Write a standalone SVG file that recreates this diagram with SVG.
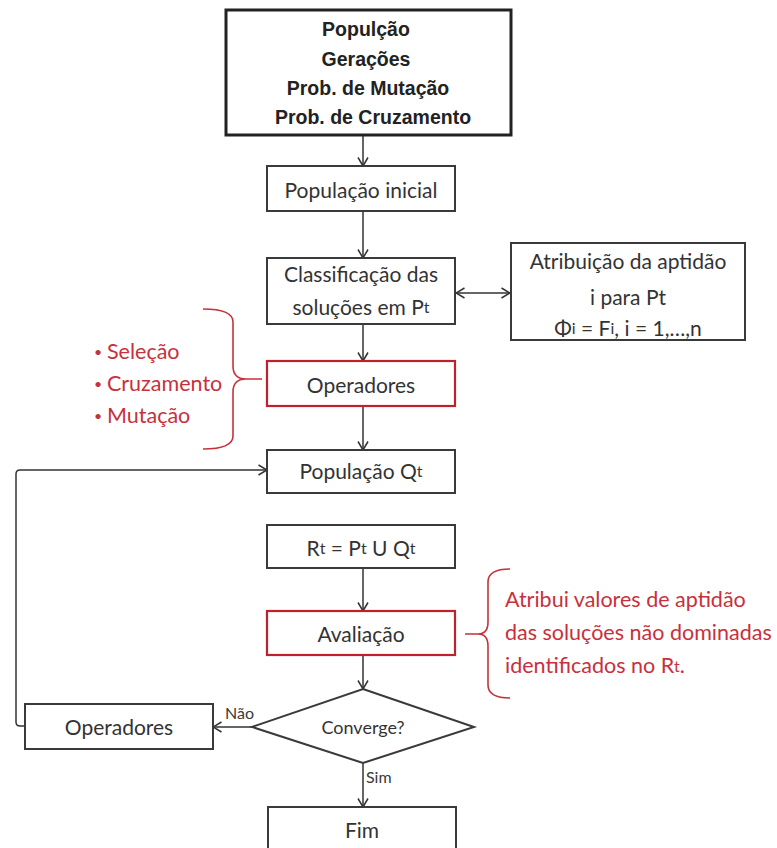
<svg xmlns="http://www.w3.org/2000/svg" width="777" height="848" viewBox="0 0 777 848">
  <defs>
    <marker id="arrow" viewBox="0 0 10 12" refX="9.5" refY="6" markerWidth="10" markerHeight="12" markerUnits="userSpaceOnUse" orient="auto-start-reverse">
      <path d="M1,1 L9.5,6 L1,11" fill="none" stroke="#333" stroke-width="1.5"/>
    </marker>
    <style>
      .box { fill: #fff; stroke: #3a3a3a; stroke-width: 2; }
      .hot { fill: #fff; stroke: #c0202c; stroke-width: 2.2; }
      .main { fill: #fff; stroke: #222; stroke-width: 3; }
      .t { font-family: Lato, "Open Sans", sans-serif; font-size: 21px; fill: #333; text-anchor: middle; dominant-baseline: central; }
      .tb { font-family: "Liberation Sans", Arial, sans-serif; font-weight: bold; font-size: 19.5px; fill: #222; text-anchor: middle; dominant-baseline: central; }
      .red { font-family: Lato, "Open Sans", sans-serif; font-size: 21.5px; fill: #c8303c; dominant-baseline: central; }
      .dot { font-family: Lato, "Open Sans", sans-serif; font-size: 14px; fill: #c8303c; dominant-baseline: central; }
      .small { font-family: Lato, "Open Sans", sans-serif; font-size: 16px; fill: #3a3a3a; dominant-baseline: central; }
      .sub { font-size: 16px; }
      .edge { fill: none; stroke: #333; stroke-width: 1.5; }
      .brace { fill: none; stroke: #c8303c; stroke-width: 1.6; }
    </style>
  </defs>

  <!-- connectors -->
  <g id="connectors">
    <line class="edge" x1="363" y1="135" x2="363" y2="166" marker-end="url(#arrow)"/>
    <line class="edge" x1="363" y1="211" x2="363" y2="258" marker-end="url(#arrow)"/>
    <line class="edge" x1="456" y1="293" x2="510" y2="293" marker-start="url(#arrow)" marker-end="url(#arrow)"/>
    <line class="edge" x1="363" y1="324" x2="363" y2="361" marker-end="url(#arrow)"/>
    <line class="edge" x1="363" y1="406" x2="363" y2="450" marker-end="url(#arrow)"/>
    <path class="edge" d="M25,726 L20,726 Q16,726 16,722 L16,474 Q16,470 20,470 L267,470" marker-end="url(#arrow)"/>
    <line class="edge" x1="363" y1="568" x2="363" y2="611" marker-end="url(#arrow)"/>
    <line class="edge" x1="363" y1="655" x2="363" y2="689" marker-end="url(#arrow)"/>
    <line class="edge" x1="252" y1="727" x2="213" y2="727" marker-end="url(#arrow)"/>
    <line class="edge" x1="363" y1="763" x2="363" y2="807" marker-end="url(#arrow)"/>
    <text class="small" x="225" y="712">Não</text>
    <text class="small" x="366" y="776">Sim</text>
  </g>

  <!-- parameters -->
  <g id="params">
    <rect class="main" x="226" y="10" width="285" height="125"/>
    <text class="tb" x="366" y="29">Populção</text>
    <text class="tb" x="366" y="59">Gerações</text>
    <text class="tb" x="368" y="88">Prob. de Mutação</text>
    <text class="tb" x="373" y="117">Prob. de Cruzamento</text>
  </g>

  <g id="pop-inicial">
    <rect class="box" x="267" y="166" width="188" height="45"/>
    <text class="t" x="361" y="189">População inicial</text>
  </g>

  <g id="classificacao">
    <rect class="box" x="267" y="258" width="188" height="66"/>
    <text class="t" x="361" y="273">Classificação das</text>
    <text class="t" x="361" y="306">soluções em P<tspan class="sub">t</tspan></text>
  </g>

  <g id="atribuicao">
    <rect class="box" x="511" y="243" width="234" height="97"/>
    <text class="t" x="628" y="260">Atribuição da aptidão</text>
    <text class="t" x="628" y="296">i para Pt</text>
    <text class="t" x="628" y="327">Φ<tspan class="sub">i</tspan> = F<tspan class="sub">i</tspan>, i = 1,…,n</text>
  </g>

  <g id="operadores">
    <rect class="hot" x="267" y="361" width="188" height="45"/>
    <text class="t" x="361" y="384">Operadores</text>
  </g>

  <g id="op-lista">
    <path class="brace" d="M203,309 Q233,309 233,322 L233,366 Q233,379 246,379 L262,379 M246,379 Q233,379 233,392 L233,436 Q233,449 203,449"/>
    <text class="dot" x="94" y="351">•</text>
    <text class="red" x="107" y="351">Seleção</text>
    <text class="dot" x="94" y="383">•</text>
    <text class="red" x="107" y="383">Cruzamento</text>
    <text class="dot" x="94" y="415">•</text>
    <text class="red" x="107" y="415">Mutação</text>
  </g>

  <g id="pop-qt">
    <rect class="box" x="267" y="450" width="188" height="43"/>
    <text class="t" x="361" y="470">População Q<tspan class="sub">t</tspan></text>
  </g>

  <g id="rt">
    <rect class="box" x="267" y="525" width="188" height="43"/>
    <text class="t" x="361" y="547">R<tspan class="sub">t</tspan> = P<tspan class="sub">t</tspan> U Q<tspan class="sub">t</tspan></text>
  </g>

  <g id="avaliacao">
    <rect class="hot" x="267" y="611" width="188" height="44"/>
    <text class="t" x="361" y="633">Avaliação</text>
  </g>

  <g id="avaliacao-nota">
    <path class="brace" d="M510,569 Q488,569 488,582 L488,622 Q488,634 478,634 L465,634 M478,634 Q488,634 488,646 L488,685 Q488,698 510,698"/>
    <text class="red" x="505" y="599">Atribui valores de aptidão</text>
    <text class="red" x="505" y="632">das soluções não dominadas</text>
    <text class="red" x="505" y="665">identificados no R<tspan class="sub">t</tspan>.</text>
  </g>

  <g id="converge">
    <polygon class="box" points="363,689 474,727 363,763 252,727"/>
    <text class="t" x="363" y="727" style="font-size:18px">Converge?</text>
  </g>

  <g id="operadores-2">
    <rect class="box" x="25" y="704" width="188" height="45"/>
    <text class="t" x="119" y="726">Operadores</text>
  </g>

  <g id="fim">
    <rect class="box" x="268" y="807" width="188" height="44"/>
    <text class="t" x="362" y="829">Fim</text>
  </g>
</svg>
